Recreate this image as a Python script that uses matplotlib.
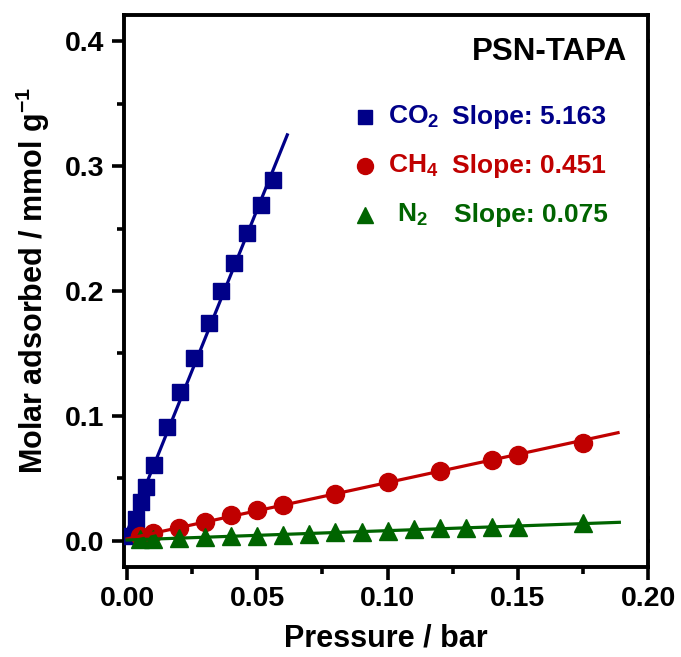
import numpy as np
import matplotlib.pyplot as plt
from matplotlib.ticker import MultipleLocator

plt.rcParams['font.family'] = ['Liberation Sans', 'DejaVu Sans']
plt.rcParams['font.weight'] = 'bold'
plt.rcParams['mathtext.fontset'] = 'custom'
plt.rcParams['mathtext.bf'] = 'Liberation Sans:bold'
plt.rcParams['mathtext.rm'] = 'Liberation Sans:bold'
plt.rcParams['mathtext.default'] = 'bf'

# CO2 uptake
co2_p = [0.0005, 0.0035, 0.0054, 0.0073, 0.0104, 0.0153, 0.0204, 0.0255,
         0.0313, 0.0362, 0.0412, 0.0460, 0.0514, 0.0560]
co2_q = [0.004, 0.0173, 0.0308, 0.0429, 0.0603, 0.0913, 0.1195, 0.1464,
         0.1746, 0.2002, 0.2224, 0.2466, 0.2687, 0.2889]

# CH4 uptake
ch4_p = [0.005, 0.01, 0.02, 0.03, 0.04, 0.05, 0.06, 0.08, 0.10, 0.12, 0.14, 0.15, 0.175]
ch4_q = [0.0039, 0.0066, 0.0106, 0.0147, 0.0206, 0.0248, 0.0286, 0.0375,
         0.0469, 0.0558, 0.0644, 0.0690, 0.0786]

# N2 uptake
n2_p = [0.005, 0.01, 0.02, 0.03, 0.04, 0.05, 0.06, 0.07, 0.08, 0.09, 0.10,
        0.11, 0.12, 0.13, 0.14, 0.15, 0.175]
n2_q = [0.0012, 0.0016, 0.0022, 0.0028, 0.0035, 0.0042, 0.0048, 0.0052, 0.0068,
        0.0074, 0.0080, 0.0092, 0.0100, 0.0105, 0.0110, 0.0114, 0.0140]

gases = ['CO$_2$', 'CH$_4$', 'N$_2$']
slopes = [5.163, 0.451, 0.075]
fit_end = [0.0615, 0.1885, 0.189]
colors = ['#000088', '#C00000', '#006400']
markers = ['s', 'o', '^']
msizes = [11.5, 13, 13.5]


def fit_line(p, q, slope, x_end):
    p = np.asarray(p)
    q = np.asarray(q)
    b = np.mean(q - slope * p)
    x = np.array([0.0, x_end])
    return x, slope * x + b


fig = plt.figure(figsize=(6.81, 6.57), dpi=100)
ax = fig.add_axes([124 / 681, 90 / 657, 524 / 681, 552 / 657])

data = [(co2_p, co2_q), (ch4_p, ch4_q), (n2_p, n2_q)]
for (p, q), s, xe, c, m, ms in zip(data, slopes, fit_end, colors, markers, msizes):
    ax.plot(p, q, m, color=c, ms=ms, mec=c, zorder=3)
    lx, ly = fit_line(p, q, s, xe)
    ax.plot(lx, ly, '-', color=c, lw=2.3, zorder=4)

ax.set_xlim(-0.0012, 0.2)
ax.set_ylim(-0.021, 0.421)
ax.xaxis.set_major_locator(MultipleLocator(0.05))
ax.xaxis.set_minor_locator(MultipleLocator(0.025))
ax.yaxis.set_major_locator(MultipleLocator(0.1))
ax.yaxis.set_minor_locator(MultipleLocator(0.05))
ax.xaxis.set_major_formatter(plt.FormatStrFormatter('%.2f'))
ax.yaxis.set_major_formatter(plt.FormatStrFormatter('%.1f'))

for sp in ax.spines.values():
    sp.set_linewidth(2.8)
ax.tick_params(which='major', direction='out', length=9, width=2.6,
               labelsize=20.5, pad=5)
ax.tick_params(which='minor', direction='out', length=5, width=2.6)
ax.tick_params(axis='y', which='both', right=True)
# the right-hand ticks are only small stubs
for t in ax.yaxis.get_ticklines(minor=False)[1::2]:
    t.set_markersize(1.5)
for t in ax.yaxis.get_ticklines(minor=True)[1::2]:
    t.set_markersize(1.5)

ax.set_xlabel('Pressure / bar', fontsize=22, fontweight='bold', labelpad=8)
ax.set_ylabel('Molar adsorbed / mmol g$^{-1}$', fontsize=22, fontweight='bold')
ax.yaxis.set_label_coords(-0.137, 0.52)

# key with slopes
W, H = 681, 657
fig.text(627 / W, 1 - 52 / H, 'PSN-TAPA', ha='right', va='center',
         fontsize=22.5, fontweight='bold', color='black')
rows_y = [117, 166, 215]
name_x = [388, 388, 397]
slope_x = [452, 452, 454]
for g, s, c, m, ms, y, nx, sx in zip(gases, slopes, colors, markers, msizes,
                                     rows_y, name_x, slope_x):
    fig.lines.append(plt.Line2D([365 / W], [1 - y / H], marker=m, color=c,
                                ms=ms - 1.5, mec=c, transform=fig.transFigure))
    fig.text(nx / W, 1 - y / H, g, ha='left', va='center', fontsize=19,
             fontweight='bold', color=c)
    fig.text(sx / W, 1 - y / H, 'Slope: %.3f' % s, ha='left', va='center',
             fontsize=19, fontweight='bold', color=c)

fig.savefig('out.png', dpi=100)
